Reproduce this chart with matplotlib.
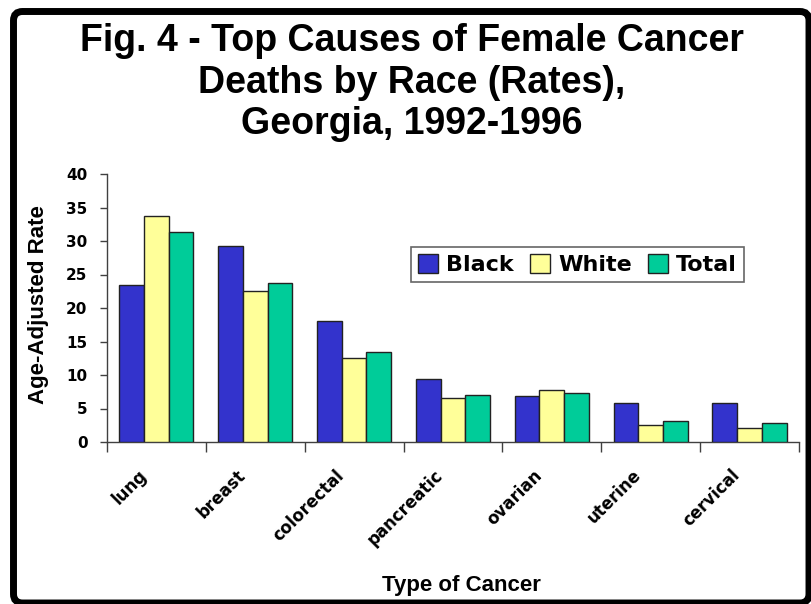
import matplotlib
matplotlib.use("Agg")
import matplotlib.pyplot as plt
from matplotlib.patches import FancyBboxPatch
from matplotlib.transforms import ScaledTranslation
import numpy as np

# Age-adjusted female cancer death rates, Georgia 1992-1996
categories = ["lung", "breast", "colorectal", "pancreatic", "ovarian", "uterine", "cervical"]
black_rates = [23.5, 29.3, 18.0, 9.4, 6.8, 5.8, 5.8]
white_rates = [33.8, 22.5, 12.5, 6.5, 7.8, 2.5, 2.1]
total_rates = [31.4, 23.8, 13.5, 7.0, 7.3, 3.1, 2.8]
series_names = ["Black", "White", "Total"]
y_ticks = [0, 5, 10, 15, 20, 25, 30, 35, 40]

colors = ["#3333CC", "#FFFF99", "#00CC99"]
edge = "#222222"
axis_grey = "#404040"

W, H, DPI = 812, 604, 100
fig = plt.figure(figsize=(W / DPI, H / DPI), dpi=DPI)

ax_l, ax_r, ax_b, ax_t = 107, 799, 442, 174
ax = fig.add_axes([ax_l / W, 1 - ax_b / H, (ax_r - ax_l) / W, (ax_b - ax_t) / H])

x = np.arange(len(categories)) + 0.5
bw = 0.25
for k, (vals, name) in enumerate(zip([black_rates, white_rates, total_rates], series_names)):
    ax.bar(x + (k - 1) * bw, vals, width=bw, color=colors[k], edgecolor=edge,
           linewidth=1.0, label=name, zorder=3)

ax.set_xlim(0, len(categories))
ax.set_ylim(0, 40)
ax.set_yticks(y_ticks)
ax.set_yticklabels([str(t) for t in y_ticks], fontsize=11, fontweight="bold",
                   family="DejaVu Sans")

# category boundaries carry the ticks; labels sit at the category centers
ax.set_xticks(np.arange(len(categories) + 1), minor=True)
ax.set_xticks(x)
ax.set_xticklabels(categories, rotation=45, ha="right", va="center",
                   rotation_mode="anchor", fontsize=12, fontweight="bold",
                   family="DejaVu Sans")
ax.tick_params(axis="x", which="major", length=0, pad=22)
ax.tick_params(axis="x", which="minor", length=7, width=1, color=axis_grey, direction="out")
ax.tick_params(axis="y", length=5, width=1, color=axis_grey, direction="out", pad=9)
for lab in ax.get_xticklabels():
    lab.set_transform(lab.get_transform() + ScaledTranslation(-9 / 72, 0, fig.dpi_scale_trans))

for s in ["top", "right"]:
    ax.spines[s].set_visible(False)
for s in ["left", "bottom"]:
    ax.spines[s].set_color(axis_grey)
    ax.spines[s].set_linewidth(1.0)

ax.set_ylabel("Age-Adjusted Rate", fontsize=16, fontweight="bold", family="Liberation Sans")
ax.yaxis.set_label_coords((49 - ax_l) / (ax_r - ax_l), (ax_b - 305) / (ax_b - ax_t))
ax.set_xlabel("Type of Cancer", fontsize=16, fontweight="bold", family="Liberation Sans")
ax.xaxis.set_label_coords((461 - ax_l) / (ax_r - ax_l), (ax_b - 575) / (ax_b - ax_t))

leg = ax.legend(loc="upper left",
                bbox_to_anchor=((411 - ax_l) / (ax_r - ax_l), (ax_b - 247) / (ax_b - ax_t)),
                ncol=3, frameon=True, fancybox=False, edgecolor=axis_grey,
                handlelength=0.9, handleheight=0.9, handletextpad=0.35,
                columnspacing=0.75, borderpad=0.32, borderaxespad=0,
                prop={"family": "DejaVu Sans", "weight": "bold", "size": 16})
leg.get_frame().set_linewidth(1.2)
leg.get_frame().set_facecolor("white")

fig.text(412 / W, 1 - 23 / H,
         "Fig. 4 - Top Causes of Female Cancer\nDeaths by Race (Rates),\nGeorgia, 1992-1996",
         ha="center", va="top", fontsize=27, fontweight="bold",
         family="Liberation Sans", linespacing=1.2)

# rounded black frame around the whole figure
frame = FancyBboxPatch((13.5 / DPI, (H - 603) / DPI), (809 - 13.5) / DPI, (603 - 11.5) / DPI,
                       boxstyle="round,pad=0,rounding_size=0.09",
                       transform=fig.dpi_scale_trans, facecolor="none",
                       edgecolor="black", linewidth=5.0, clip_on=False)
fig.patches.append(frame)

fig.savefig("out.png", dpi=DPI)
